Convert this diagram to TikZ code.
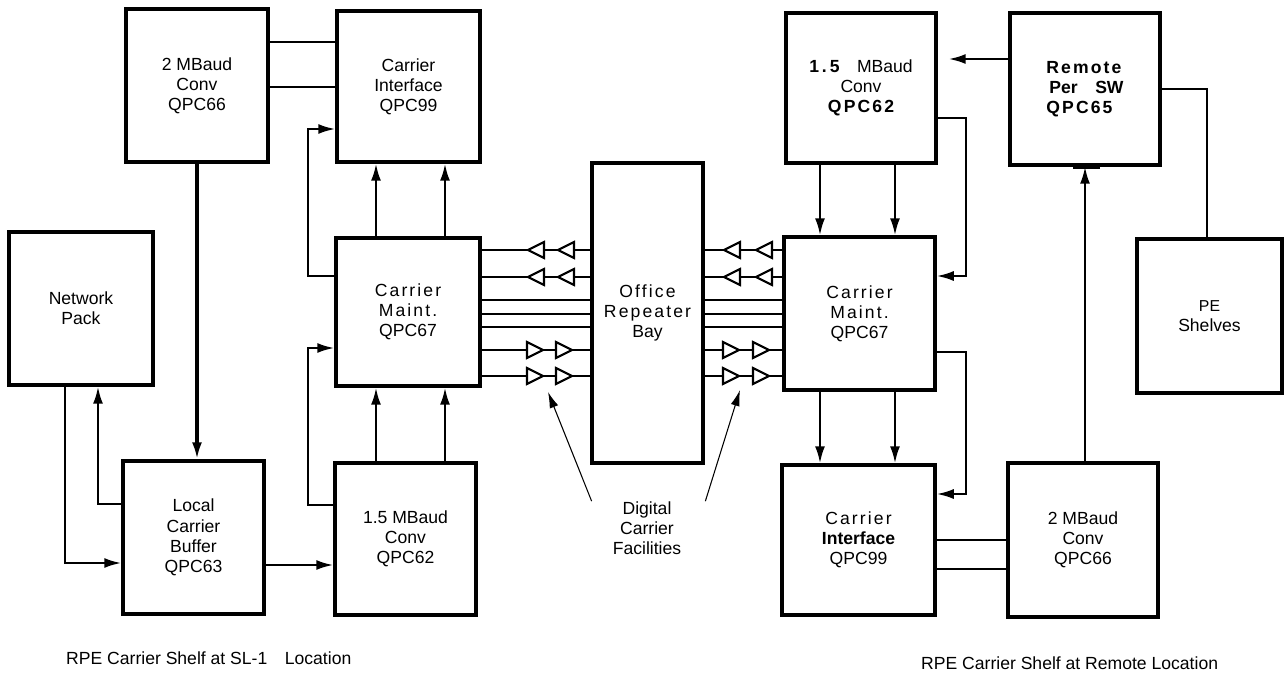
\documentclass[tikz,border=0pt]{standalone}
\usepackage{fontspec}
\setmainfont{Liberation Sans}
\newfontfamily\spc[LetterSpace=12]{Liberation Sans}
\usetikzlibrary{arrows.meta}

\begin{document}
\begin{tikzpicture}[x=0.02cm, y=-0.02cm,
    every node/.style={font=\fontsize{10}{11.5}\selectfont},
    blk/.style={draw, line width=2pt, align=center, inner sep=0pt},
    conn/.style={line width=1.3pt},
    arr/.style={line width=1.3pt, -{Latex[length=3.4mm, width=2mm]}},
    ptr/.style={line width=0.6pt, -{Latex[length=3.2mm, width=1.8mm]}},
    amp/.style={line width=1.2pt, fill=white}]
  \useasboundingbox (0,0) rectangle (1288,673);

  \node[blk, minimum width=2.84cm, minimum height=3.06cm]
    (cv2) at (197,85.5) {2 MBaud\\Conv\\QPC66};
  \node[blk, minimum width=2.86cm, minimum height=3.02cm]
    (ci) at (408.5,86.5) {Carrier\\Interface\\QPC99};
  \node[blk, minimum width=2.88cm, minimum height=3.06cm]
    (np) at (81,308.5) {Network\\Pack};
  \node[blk, minimum width=2.88cm, minimum height=2.96cm]
    (cm) at (408,312) {{\spc Carrier}\\{\spc Maint.}\\QPC67};
  \node[blk, minimum width=2.82cm, minimum height=3.06cm]
    (lcb) at (193.5,537.5) {Local\\Carrier\\Buffer\\QPC63};
  \node[blk, minimum width=2.82cm, minimum height=3.04cm]
    (cv15) at (405.5,539) {1.5 MBaud\\Conv\\QPC62};
  \node[blk, minimum width=2.22cm, minimum height=6.0cm]
    (orb) at (647.5,313) {{\spc Office}\\{\spc Repeater}\\Bay};

  \node[blk, minimum width=3.0cm, minimum height=3.0cm]
    (rcv15) at (861,88) {\textbf{1\,.\,5}\quad MBaud\\Conv\\{\spc\bfseries QPC62}};
  \node[blk, minimum width=3.0cm, minimum height=3.04cm, align=left]
    (rps) at (1085,89) {{\spc\bfseries Remote}\\\textbf{\,Per\quad SW}\\{\spc\bfseries QPC65}};
  \node[blk, minimum width=3.02cm, minimum height=3.06cm]
    (rcm) at (859.5,313.5) {{\spc Carrier}\\{\spc Maint.}\\QPC67};
  \node[blk, minimum width=2.9cm, minimum height=3.08cm]
    (pe) at (1209.5,316) {\fontsize{9}{11}\selectfont PE\\Shelves};
  \node[blk, minimum width=3.06cm, minimum height=3.0cm]
    (rci) at (858.5,540) {{\spc Carrier}\\\textbf{Interface}\\QPC99};
  \node[blk, minimum width=3.0cm, minimum height=3.08cm]
    (rcv2) at (1083,540) {2 MBaud\\Conv\\QPC66};

  \foreach \y in {42,87}
    \draw[conn] (cv2.east |- 0,\y) -- (ci.west |- 0,\y);
  \draw[arr, line width=1.8pt] (cv2.south) -- (cv2.south |- lcb.north);
  \foreach \x in {376,445} {
    \draw[arr] (cm.north -| \x,0) -- (ci.south -| \x,0);
    \draw[arr] (cv15.north -| \x,0) -- (cm.south -| \x,0);
  }
  \draw[arr] (cm.west |- 0,276) -| (308,129) -- (ci.west |- 0,129);
  \draw[arr] (cv15.west |- 0,505) -| (308,348) -- (cm.west |- 0,348);
  \draw[arr] (np.south -| 65,0) |- (lcb.west |- 0,563);
  \draw[arr] (lcb.west |- 0,504) -| (np.south -| 98,0);
  \draw[arr] (lcb.east |- 0,565) -- (cv15.west |- 0,565);

  \foreach \y in {250,277,300,314,327,350,376} {
    \draw[conn] (cm.east |- 0,\y) -- (orb.west |- 0,\y);
    \draw[conn] (orb.east |- 0,\y) -- (rcm.west |- 0,\y);
  }
  \foreach \y in {250,277} \foreach \x in {536,566,732,764}
    \draw[amp] (\x-8,\y) -- ++(16,-8) -- ++(0,16) -- cycle;
  \foreach \y in {350,376} \foreach \x in {535,564,731,761}
    \draw[amp] (\x+8,\y) -- ++(-16,-8) -- ++(0,16) -- cycle;

  \node[align=center] (dcf) at (647,528) {Digital\\Carrier\\Facilities};
  \coordinate (tl) at (548,392);
  \coordinate (tr) at (740,390);
  \draw[ptr] ([xshift=-0.3cm, yshift=-0.12cm]dcf.north west) -- (tl);
  \draw[ptr] ([xshift=0.36cm, yshift=-0.12cm]dcf.north east) -- (tr);

  \foreach \x in {820,895} {
    \draw[arr] (rcv15.south -| \x,0) -- (rcm.north -| \x,0);
    \draw[arr] (rcm.south -| \x,0) -- (rci.north -| \x,0);
  }
  \draw[arr] (rcv15.east |- 0,118) -| (966,276) -- (rcm.east |- 0,276);
  \draw[arr] (rcm.east |- 0,352) -| (966,494) -- (rci.east |- 0,494);
  \draw[arr, shorten >=0.22cm] (rps.west |- 0,59) -- (rcv15.east |- 0,59);
  \draw[conn] (rps.east |- 0,89) -| (pe.north -| 1207,0);
  \draw[arr] (rcv2.north -| 1085,0) -- (rps.south -| 1085,0);
  \draw[line width=3pt] (rps.south -| 1073,0) -- (rps.south -| 1100,0);
  \foreach \y in {540,569}
    \draw[conn] (rci.east |- 0,\y) -- (rcv2.west |- 0,\y);

  \node[anchor=west] (capl) at (60,658)
    {RPE Carrier Shelf at SL-1\quad Location};
  \node[anchor=west] (capr) at (915,663)
    {RPE Carrier Shelf at Remote Location};
\end{tikzpicture}
\end{document}
